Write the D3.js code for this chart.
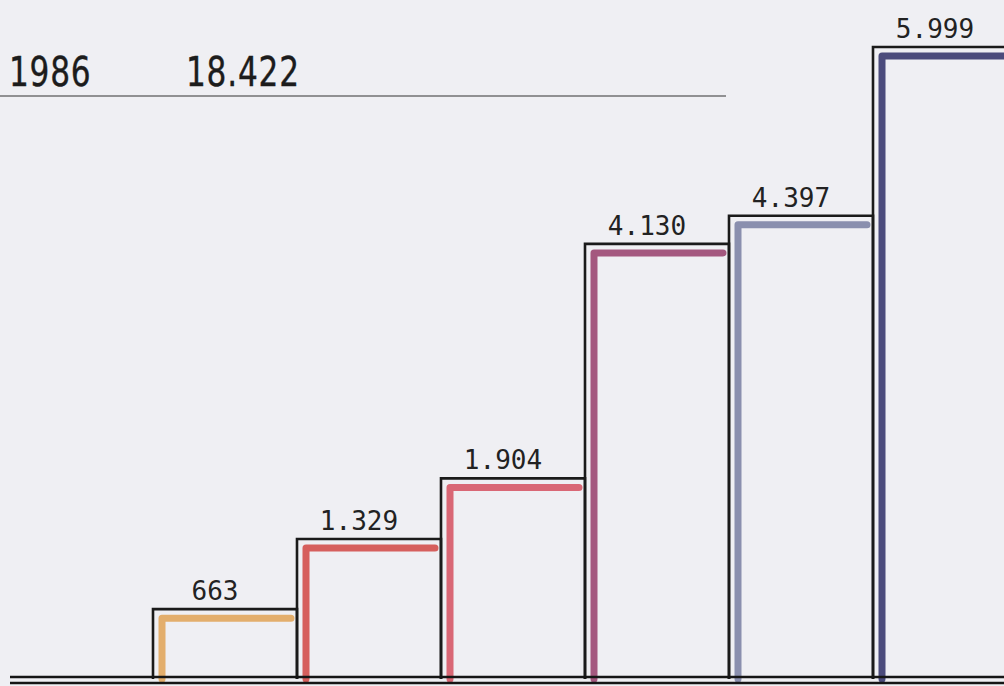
<!DOCTYPE html>
<html>
<head>
<meta charset="utf-8">
<script src="https://cdn.jsdelivr.net/npm/d3@7"></script>
<style>
  body { margin: 0; background: #efeff3; }
  svg { display: block; }
</style>
</head>
<body>
<div id="chart"></div>
<script>
// data
var year = "1986";
var total = "18.422";
var categories = ["c1", "c2", "c3", "c4", "c5", "c6"];
var values = [663, 1329, 1904, 4130, 4397, 5999];
var valueLabels = ["663", "1.329", "1.904", "4.130", "4.397", "5.999"];
var colors = ["#e3ae6c", "#d65f5d", "#d96775", "#a4587f", "#8a8fae", "#4b4b7c"];

var width = 1004, height = 686;
var baseY = 679;

var svg = d3.select("#chart").append("svg")
    .attr("width", width)
    .attr("height", height);

svg.append("rect").attr("width", width).attr("height", height).attr("fill", "#efeff3");

var xScale = d3.scaleBand().domain(categories).range([153, 153 + 6 * 144]).padding(0),
    yScale = d3.scaleLinear().domain([0, d3.max(values)]).range([baseY, 47]);

var data = categories.map(function(c, i) {
    return {cat: c, value: values[i], label: valueLabels[i], color: colors[i]};
});

// header, squeezed to look like hand lettering
function headerText(x, txt) {
    svg.append("text")
        .attr("transform", "translate(" + x + ",86) scale(0.78,1)")
        .attr("font-family", "'DejaVu Sans', sans-serif")
        .attr("font-size", 40)
        .attr("letter-spacing", 1)
        .attr("fill", "#1c1c1c")
        .attr("stroke", "#1c1c1c")
        .attr("stroke-width", 0.4)
        .text(txt);
}
headerText(9, year);
headerText(186, total);

svg.append("line")
    .attr("x1", 0).attr("x2", 726)
    .attr("y1", 96).attr("y2", 96)
    .attr("stroke", "#333").attr("stroke-width", 1.2);

var bw = xScale.bandwidth();

var bars = svg.selectAll(".bar")
    .data(data)
    .enter().append("g")
    .attr("class", "bar");

// coloured inner L stroke
bars.append("path")
    .attr("d", function(d) {
        var x = xScale(d.cat), y = yScale(d.value);
        return "M" + (x + 9) + "," + baseY + "V" + (y + 9) + "H" + (x + bw - 6);
    })
    .attr("fill", "none")
    .attr("stroke", function(d) { return d.color; })
    .attr("stroke-width", 7)
    .attr("stroke-linejoin", "round")
    .attr("stroke-linecap", "round");

// black outline
bars.append("path")
    .attr("d", function(d) {
        var x = xScale(d.cat), y = yScale(d.value);
        return "M" + x + "," + baseY + "V" + y + "H" + (x + bw) + "V" + baseY;
    })
    .attr("fill", "none")
    .attr("stroke", "#1a1a1a")
    .attr("stroke-width", 2.6);

bars.append("text")
    .attr("x", function(d) { return xScale(d.cat) + bw / 2 - 10; })
    .attr("y", function(d) { return yScale(d.value) - 9; })
    .attr("text-anchor", "middle")
    .attr("font-family", "'DejaVu Sans Mono', monospace")
    .attr("font-size", 26)
    .attr("fill", "#222")
    .text(function(d) { return d.label; });

// double base line
svg.append("line")
    .attr("x1", 10).attr("x2", width)
    .attr("y1", baseY - 2).attr("y2", baseY - 2)
    .attr("stroke", "#151515").attr("stroke-width", 2.6);
svg.append("line")
    .attr("x1", 10).attr("x2", width)
    .attr("y1", baseY + 4).attr("y2", baseY + 4)
    .attr("stroke", "#151515").attr("stroke-width", 2.6);
</script>
</body>
</html>
